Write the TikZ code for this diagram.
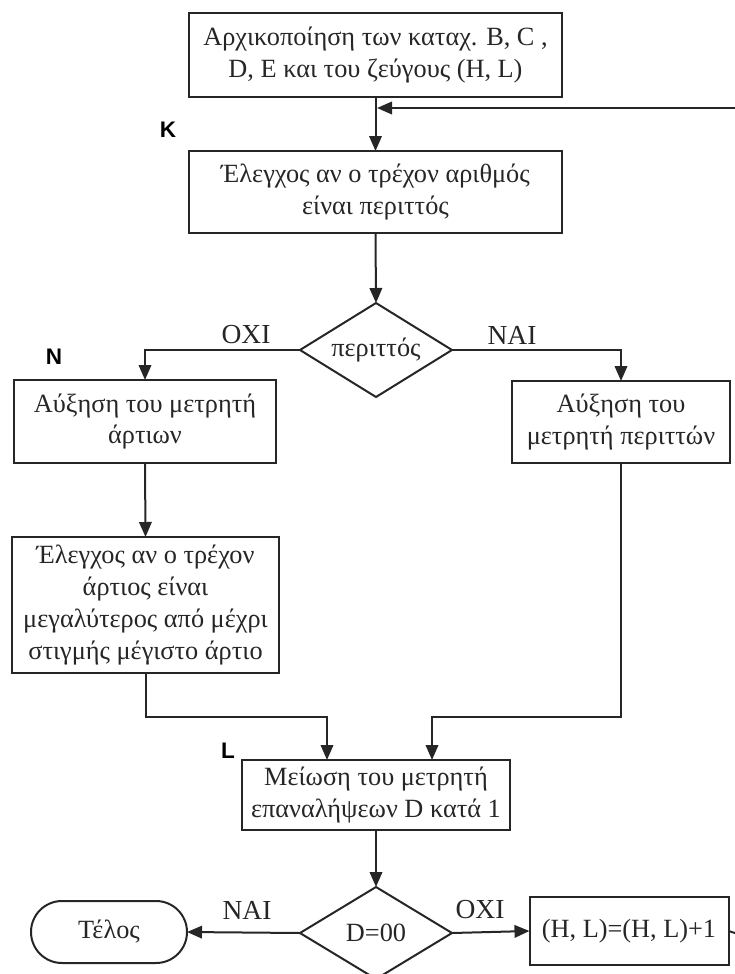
\documentclass[tikz,border=0pt]{standalone}
\usepackage{fontspec}
\setmainfont{Liberation Serif}
\newfontfamily\labelfont{Liberation Sans}
\usetikzlibrary{arrows.meta,shapes.geometric,shapes.misc}
\begin{document}
\begin{tikzpicture}[x=1pt,y=-1pt,
  every node/.style={inner sep=0pt,outer sep=0pt},
  line/.style={draw=black!85,line width=2pt},
  arr/.style={line,-{Triangle[length=15pt,width=12.5pt]}},
  txt/.style={font=\fontsize{26.3}{31.8}\selectfont,text=black!85,align=center},
  box/.style={line,txt,rectangle},
  decision/.style={line,txt,diamond,shape aspect=1.6},
  terminal/.style={line,txt,rounded rectangle},
  branchlabel/.style={font=\fontsize{27.5}{30}\selectfont,text=black!85},
  pointlabel/.style={font=\labelfont\bfseries\fontsize{22.5}{25}\selectfont,text=black}
]
\useasboundingbox (0,0) rectangle (735,974);

% process steps
\node[box,minimum width=373,minimum height=84] (init) at (375.5,55)
  {Αρχικοποίηση των καταχ. B, C ,\\D, E και του ζεύγους (H, L)};
\node[box,minimum width=373,minimum height=82] (check) at (375.5,192)
  {Έλεγχος αν ο τρέχον αριθμός\\είναι περιττός};
\node[decision,minimum width=152,minimum height=94] (odd) at (376,350) {περιττός};
\node[box,minimum width=262,minimum height=83] (even) at (145,421.5)
  {Αύξηση του μετρητή\\άρτιων};
\node[box,minimum width=218,minimum height=82] (oddc) at (621,422)
  {Αύξηση του\\μετρητή περιττών};
\node[box,minimum width=267,minimum height=136] (cmp) at (145.5,605)
  {Έλεγχος αν ο τρέχον\\άρτιος είναι\\μεγαλύτερος από μέχρι\\στιγμής μέγιστο άρτιο};
\node[box,minimum width=268,minimum height=70] (dec) at (376,795)
  {Μείωση του μετρητή\\επαναλήψεων D κατά 1};
\node[decision,minimum width=152,minimum height=92] (dzero) at (376,933) {D=00};
\node[terminal,minimum width=156,minimum height=62] (stop) at (109,932) {Τέλος};
\node[box,minimum width=199,minimum height=68] (inc) at (629,931) {(H, L)=(H, L)+1};

% point labels
\node[pointlabel] (lk) at (168,130) {K};
\node[pointlabel] (ln) at (54,357) {N};
\node[pointlabel] (ll) at (228,751) {L};

% branch labels
\node[branchlabel] (no1) at (246,335) {ΟΧΙ};
\node[branchlabel] (yes1) at (512,335) {ΝΑΙ};
\node[branchlabel] (yes2) at (247,910) {ΝΑΙ};
\node[branchlabel] (no2) at (480,910) {ΟΧΙ};

% connectors
\coordinate (loopin) at (735,108);
\coordinate (loopout) at (735,933);
\coordinate (mergeL) at (327,717);
\coordinate (mergeR) at (432,717);

\draw[arr] (init.south) -- (check.north);
\draw[arr] (loopin) -- ([xshift=1.5pt]loopin -| init.south);
\draw[arr] (check.south) -- (odd.north);
\draw[arr] (odd.west) -| (even.north);
\draw[arr] (odd.east) -| (oddc.north);
\draw[arr] (even.south) -- (cmp.north);
\draw[arr] (cmp.south) |- (mergeL) -- (mergeL |- dec.north);
\draw[arr] (oddc.south) |- (mergeR) -- (mergeR |- dec.north);
\draw[arr] (dec.south) -- (dzero.north);
\draw[arr] (dzero.west) -- (stop.east);
\draw[arr] (dzero.east) -- (inc.west);
\draw[line] (inc.east) -- (loopout);
\end{tikzpicture}
\end{document}
